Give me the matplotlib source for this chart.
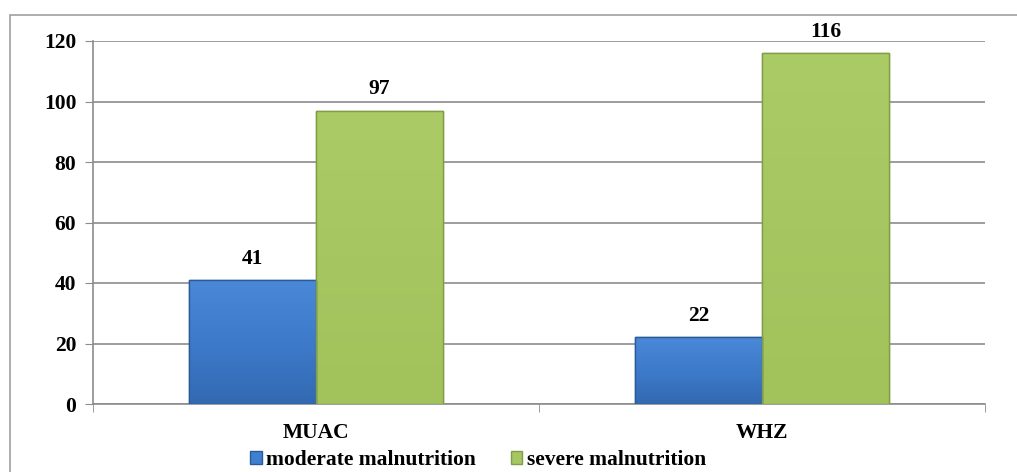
import numpy as np
import matplotlib
matplotlib.use("Agg")
import matplotlib.pyplot as plt
from matplotlib.patches import Rectangle
from matplotlib.colors import LinearSegmentedColormap

categories = ["MUAC", "WHZ"]
moderate = [41, 22]
severe = [97, 116]
series_names = ["moderate malnutrition", "severe malnutrition"]

W, H = 1017, 472
fig = plt.figure(figsize=(W / 100, H / 100), dpi=100)
plt.rcParams["font.family"] = ["Liberation Serif", "DejaVu Serif"]
FS = 15.5

# outer chart frame (right/bottom edges run off the image)
fig.patches.append(Rectangle((10 / W, -0.1), 1.2, 1.1 - 15 / H,
                             transform=fig.transFigure, fill=False,
                             edgecolor="#a0a0a0", linewidth=1.2))

ax = fig.add_axes([93 / W, 1 - 404 / H, (985 - 93) / W, (404 - 41) / H])

x = np.arange(len(categories))
bw = 0.285
blue, blue_edge = "#3f7fcf", "#2a5a98"
green, green_edge = "#a6c661", "#7f9e45"
b1 = ax.bar(x - bw / 2, moderate, bw, color=blue, edgecolor=blue_edge,
            linewidth=1, label=series_names[0], zorder=3)
b2 = ax.bar(x + bw / 2, severe, bw, color=green, edgecolor=green_edge,
            linewidth=1, label=series_names[1], zorder=3)

# soft vertical shading inside the bars
shades = {id(b1): ["#4a89d8", "#3d7bca", "#3369b2"],
          id(b2): ["#abcb66", "#a6c661", "#a2c25c"]}
for bars in (b1, b2):
    cmap = LinearSegmentedColormap.from_list("s", shades[id(bars)])
    for r in bars:
        x0, w, h = r.get_x(), r.get_width(), r.get_height()
        im = ax.imshow(np.linspace(0, 1, 100).reshape(-1, 1), cmap=cmap,
                       aspect="auto", extent=(x0, x0 + w, 0, h),
                       origin="upper", zorder=3.5)
        im.set_clip_path(r)
        ax.add_patch(Rectangle((x0, 0), w, h, fill=False,
                               edgecolor=r.get_edgecolor(), linewidth=1,
                               zorder=4))

for bars in (b1, b2):
    for r in bars:
        ax.annotate(f"{r.get_height():.0f}",
                    (r.get_x() + r.get_width() / 2, r.get_height()),
                    xytext=(0, 8), textcoords="offset points",
                    ha="center", va="bottom", fontsize=FS, fontweight="bold")

ax.set_xlim(-0.5, 1.5)
ax.set_ylim(0, 120)
ax.set_yticks(range(0, 121, 20))
ax.set_xticks([-0.5, 0.5, 1.5], minor=True)
ax.set_xticks(x)
ax.set_xticklabels(categories, fontsize=FS, fontweight="bold")
ax.tick_params(axis="x", which="major", length=0, pad=14)
ax.tick_params(axis="x", which="minor", length=6, color="#8c8c8c", direction="out")
ax.tick_params(axis="y", length=6, color="#8c8c8c", pad=6, labelsize=FS)
for t in ax.get_yticklabels():
    t.set_fontweight("bold")

ax.grid(axis="y", color="#8c8c8c", linewidth=1.2, zorder=0)
for s in ("top", "right"):
    ax.spines[s].set_visible(False)
for s in ("left", "bottom"):
    ax.spines[s].set_color("#8c8c8c")
    ax.spines[s].set_linewidth(1.2)

fig.legend(handles=[b1, b2], labels=series_names, loc="lower center",
           bbox_to_anchor=(0.470, -0.037), ncol=2, frameon=False,
           prop={"weight": "bold", "size": FS}, handlelength=0.55,
           handleheight=0.55, handletextpad=0.2, columnspacing=1.6)

fig.savefig("out.png", dpi=100)
